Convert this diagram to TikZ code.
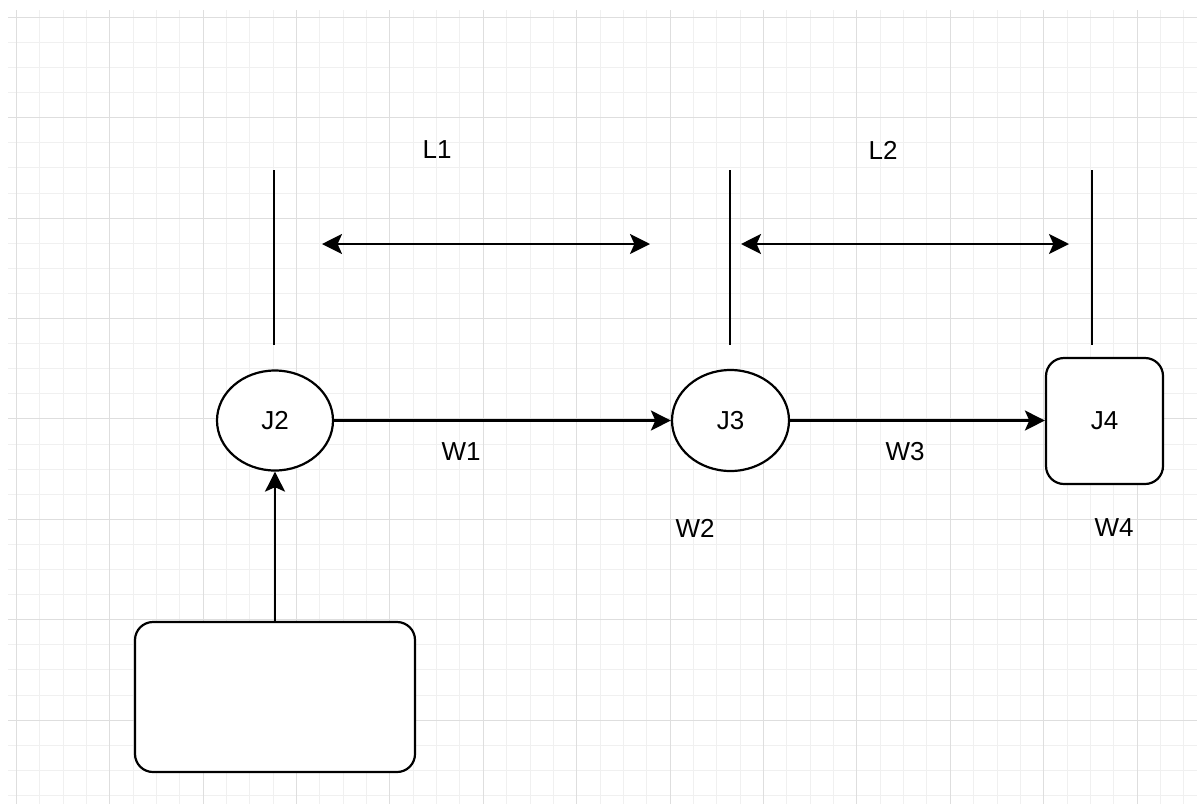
\documentclass[tikz,border=0pt]{standalone}
\usepackage{fontspec}
\setmainfont{Liberation Sans}
\usetikzlibrary{arrows.meta,shapes.geometric}
\definecolor{gridmajor}{HTML}{DEDEDE}
\definecolor{gridminor}{HTML}{F0F0F0}
\tikzset{
  lbl/.style={font=\fontsize{13pt}{15pt}\selectfont, inner sep=0pt},
  ell/.style={draw, ellipse, line width=1.1pt, fill=white, inner sep=0pt, font=\fontsize{13pt}{15pt}\selectfont},
  rbox/.style={draw, rectangle, rounded corners=9pt, line width=1.1pt, fill=white, inner sep=0pt, font=\fontsize{13pt}{15pt}\selectfont},
  conn/.style={line width=1.1pt, -{Stealth[length=10pt,width=10pt,inset=2.2pt]}},
  dconn/.style={line width=1.1pt, {Stealth[length=10pt,width=10pt,inset=2.2pt]}-{Stealth[length=10pt,width=10pt,inset=2.2pt]}},
  tick/.style={line width=1.1pt}
}
\begin{document}
\begin{tikzpicture}[x=0.5pt,y=-0.5pt]
\useasboundingbox (0,0) rectangle (1197,804);
\fill[white] (0,0) rectangle (1197,804);
% minor grid
\foreach \k in {0,...,50} {
  \draw[gridminor, line width=0.5pt] ({16.3+23.35*\k},10) -- ({16.3+23.35*\k},804);
}
\foreach \k in {0,...,31} {
  \draw[gridminor, line width=0.5pt] (8,{17.3+25.1*\k}) -- (1197,{17.3+25.1*\k});
}
% major grid
\foreach \k in {0,...,12} {
  \draw[gridmajor, line width=0.5pt] ({16.3+93.4*\k},10) -- ({16.3+93.4*\k},804);
}
\foreach \k in {0,...,7} {
  \draw[gridmajor, line width=0.5pt] (8,{17.3+100.4*\k}) -- (1197,{17.3+100.4*\k});
}

% nodes
\node[ell, minimum width=58pt, minimum height=50pt] (J2) at (275,420.5) {J2};
\node[ell, minimum width=58.5pt, minimum height=50.5pt] (J3) at (730.5,420.5) {J3};
\node[rbox, minimum width=58.5pt, minimum height=63pt] (J4) at (1104.5,421) {J4};
\node[rbox, minimum width=140pt, minimum height=75pt] (src) at (275,697) {};

% labels
\node[lbl] (L1) at (437,150) {L1};
\node[lbl] (L2) at (883,150) {L2};
\node[lbl] (W1) at (461,452) {W1};
\node[lbl] (W3) at (905,452) {W3};
\node[lbl] (W2) at (695,528) {W2};
\node[lbl] (W4) at (1114,528) {W4};

% vertical ticks
\coordinate (a1) at (274,170); \coordinate (a2) at (274,345);
\coordinate (b1) at (730,170); \coordinate (b2) at (730,345);
\coordinate (c1) at (1092,170); \coordinate (c2) at (1092,345);
\draw[tick] (a1) -- (a2);
\draw[tick] (b1) -- (b2);
\draw[tick] (c1) -- (c2);

% dimension arrows
\coordinate (d1l) at (322,244); \coordinate (d1r) at (650,244);
\coordinate (d2l) at (741,244); \coordinate (d2r) at (1069,244);
\draw[dconn] (d1l) -- (d1r);
\draw[dconn] (d2l) -- (d2r);

% connectors
\draw[conn] (J2.east) -- (J3.west);
\draw[conn] (J3.east) -- (J4.west |- J3.east);
\draw[conn] (src.north) -- (J2.south);
\end{tikzpicture}
\end{document}
